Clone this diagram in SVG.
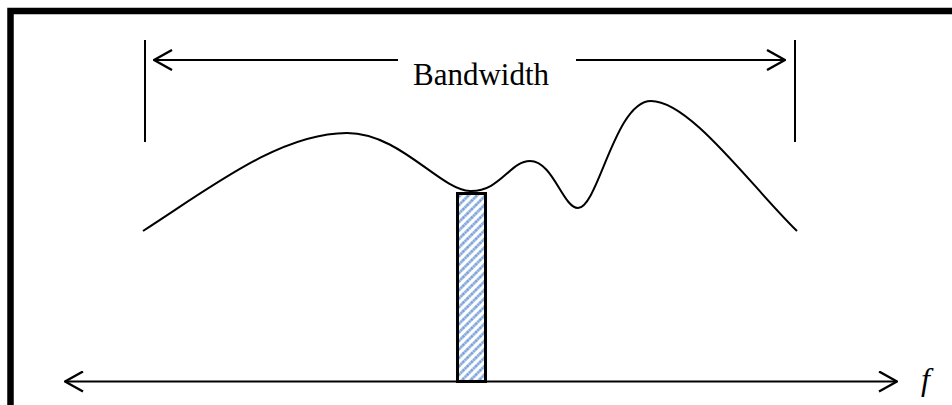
<svg xmlns="http://www.w3.org/2000/svg" width="952" height="405" viewBox="0 0 952 405">
<style>
.ln{stroke:#000;stroke-width:2;fill:none}
</style>
<defs>
<pattern id="hatch" patternUnits="userSpaceOnUse" width="6" height="6" patternTransform="rotate(45)">
<rect width="6" height="6" fill="#fff"/>
<line x1="1.5" y1="0" x2="1.5" y2="6" stroke="#6f9ad6" stroke-width="2.6" stroke-dasharray="1.8 0.5"/>
</pattern>
<marker id="ah" viewBox="0 0 20 22" refX="19" refY="11" markerWidth="20" markerHeight="22" markerUnits="userSpaceOnUse" orient="auto-start-reverse">
<polyline points="1,1 19,11 1,21" fill="none" stroke="#000" stroke-width="2.4"/>
</marker>
</defs>
<rect x="10.5" y="11" width="960" height="420" fill="#fff" stroke="#000" stroke-width="6.5"/>
<g id="bandwidth-marks">
<line class="ln" x1="145" y1="40" x2="145" y2="142"/>
<line class="ln" x1="795" y1="40" x2="795" y2="142"/>
</g>
<g id="spectrum">
<path class="ln" d="M143,231 C210,188 280,133 347,133 C400,133 440,190 470,191 C500,192 510,161 530,161 C553,161 563,208 578,208 C598,208 615,101 651,101 C690,101 750,185 797,231"/>
</g>
<g id="subband">
<rect x="457.5" y="193.5" width="28" height="188" fill="url(#hatch)" stroke="#000" stroke-width="3"/>
</g>
<g id="connectors">
<line class="ln" x1="398" y1="60" x2="154" y2="60" marker-end="url(#ah)"/>
<line class="ln" x1="576" y1="60" x2="785" y2="60" marker-end="url(#ah)"/>
<line class="ln" x1="65" y1="381.5" x2="897" y2="381.5" stroke-width="2.5" marker-start="url(#ah)" marker-end="url(#ah)"/>
</g>
<g id="labels" font-family="'Liberation Serif', 'DejaVu Serif', serif" fill="#000">
<text x="413" y="85" font-size="31">Bandwidth</text>
<text x="921" y="390" font-size="32" font-style="italic">f</text>
</g>
</svg>
